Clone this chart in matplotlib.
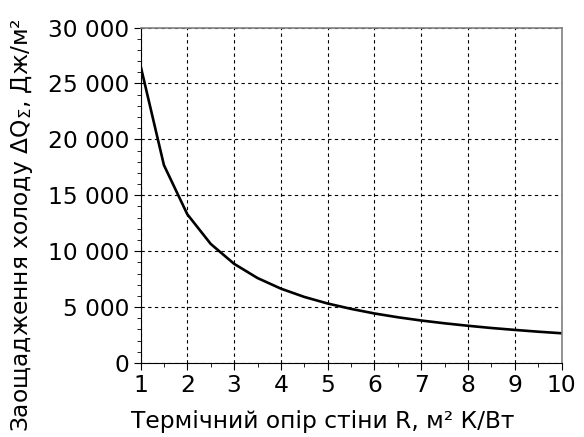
import matplotlib
matplotlib.use('Agg')
import matplotlib.pyplot as plt
from matplotlib.ticker import MultipleLocator, FuncFormatter

# Термічний опір стіни R, м² К/Вт
r_values = [1.0, 1.5, 2.0, 2.5, 3.0, 3.5, 4.0, 4.5, 5.0, 5.5,
            6.0, 6.5, 7.0, 7.5, 8.0, 8.5, 9.0, 9.5, 10.0]
# Заощадження холоду, Дж/м²
dq_values = [26600, 17700, 13300, 10650, 8870, 7600, 6650, 5910, 5320, 4840,
             4430, 4090, 3800, 3550, 3330, 3130, 2960, 2800, 2660]

plt.rcParams['font.family'] = ['DejaVu Sans']
fs = 16.8

fig = plt.figure(figsize=(5.84, 4.37), dpi=100)
ax = fig.add_axes([0.2406, 0.1693, 0.7212, 0.7677])

ax.plot(r_values, dq_values, color='black', linewidth=1.9)

ax.set_xlim(1, 10)
ax.set_ylim(0, 30000)
ax.xaxis.set_major_locator(MultipleLocator(1))
ax.xaxis.set_minor_locator(MultipleLocator(0.5))
ax.yaxis.set_major_locator(MultipleLocator(5000))
ax.yaxis.set_minor_locator(MultipleLocator(1000))
ax.yaxis.set_major_formatter(FuncFormatter(lambda v, p: f'{int(v):,}'.replace(',', ' ')))

ax.grid(True, which='major', color='black', linestyle=(0, (3, 3)), linewidth=0.8)
ax.tick_params(which='major', labelsize=fs, length=5, width=0.8, pad=3)
ax.tick_params(which='minor', length=3, width=0.6)

for side in ['top', 'right']:
    ax.spines[side].set_color('#808080')
    ax.spines[side].set_linewidth(1.2)

ax.set_xlabel('Термічний опір стіни R, м² К/Вт', fontsize=fs)
ax.set_ylabel('Заощадження холоду ΔQ$_{\\Sigma}$, Дж/м²', fontsize=fs)
ax.xaxis.set_label_coords(0.433, -0.14)
ax.yaxis.set_label_coords(-0.25, 0.41)

plt.savefig('out.png', dpi=100)
